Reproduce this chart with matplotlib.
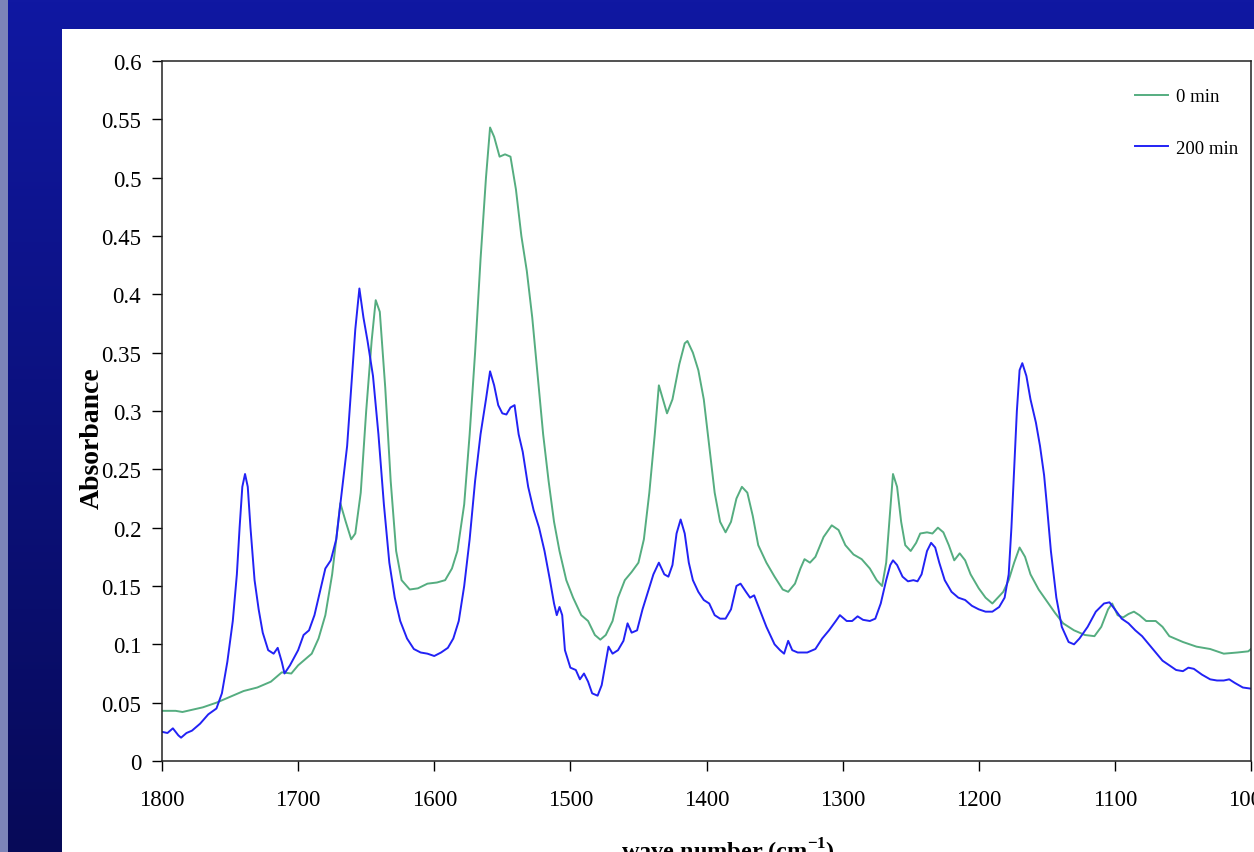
import matplotlib.pyplot as plt
import numpy as np
from matplotlib.patches import Rectangle

plt.rcParams['font.family'] = ['Liberation Serif', 'DejaVu Serif']
plt.rcParams['mathtext.fontset'] = 'custom'
plt.rcParams['mathtext.rm'] = 'Liberation Serif'
plt.rcParams['mathtext.bf'] = 'Liberation Serif:bold'

# spectra (wave number in cm-1, absorbance)
wn_0 = [1800, 1790, 1785, 1770, 1760, 1750, 1740, 1730, 1720, 1712, 1705, 1700,
        1690, 1685, 1680, 1675, 1672, 1669, 1665, 1661, 1658, 1654, 1650, 1646,
        1643, 1640, 1636, 1632, 1628, 1624, 1618, 1612, 1605, 1598, 1592, 1587,
        1583, 1578, 1574, 1570, 1566, 1562, 1559, 1556, 1552, 1548, 1544, 1540,
        1536, 1532, 1528, 1524, 1520, 1516, 1512, 1508, 1503, 1498, 1492, 1487,
        1482, 1478, 1474, 1469, 1465, 1460, 1455, 1450, 1446, 1442, 1438, 1435,
        1432, 1429, 1425, 1420, 1416, 1414, 1410, 1406, 1402, 1398, 1394, 1390,
        1386, 1382, 1378, 1374, 1370, 1366, 1362, 1356, 1350, 1344, 1340, 1335,
        1331, 1328, 1324, 1320, 1314, 1308, 1303, 1298, 1292, 1286, 1280, 1275,
        1271, 1268, 1265, 1263, 1260, 1257, 1254, 1250, 1246, 1243, 1238, 1234,
        1230, 1226, 1222, 1218, 1214, 1210, 1206, 1200, 1195, 1190, 1186, 1182,
        1178, 1174, 1170, 1166, 1162, 1156, 1150, 1144, 1138, 1130, 1122, 1115,
        1110, 1105, 1102, 1098, 1094, 1090, 1086, 1082, 1077, 1070, 1065, 1060,
        1050, 1040, 1030, 1020, 1010, 1002, 1000]
abs_0 = [0.043, 0.043, 0.042, 0.046, 0.050, 0.055, 0.060, 0.063, 0.068, 0.076, 0.075, 0.082,
         0.092, 0.105, 0.125, 0.160, 0.190, 0.221, 0.205, 0.190, 0.195, 0.230, 0.300, 0.360,
         0.395, 0.385, 0.320, 0.240, 0.180, 0.155, 0.147, 0.148, 0.152, 0.153, 0.155, 0.165,
         0.180, 0.220, 0.280, 0.350, 0.430, 0.500, 0.543, 0.535, 0.518, 0.520, 0.518, 0.490,
         0.450, 0.420, 0.380, 0.330, 0.280, 0.240, 0.205, 0.180, 0.155, 0.140, 0.125, 0.120,
         0.108, 0.104, 0.108, 0.120, 0.140, 0.155, 0.162, 0.170, 0.190, 0.230, 0.280, 0.322,
         0.310, 0.298, 0.310, 0.340, 0.358, 0.360, 0.350, 0.335, 0.310, 0.270, 0.230, 0.205,
         0.196, 0.205, 0.225, 0.235, 0.230, 0.210, 0.185, 0.170, 0.158, 0.147, 0.145, 0.152,
         0.165, 0.173, 0.170, 0.175, 0.192, 0.202, 0.198, 0.185, 0.177, 0.173, 0.165, 0.155,
         0.150, 0.170, 0.215, 0.246, 0.235, 0.205, 0.185, 0.180, 0.187, 0.195, 0.196, 0.195,
         0.200, 0.196, 0.185, 0.172, 0.178, 0.172, 0.160, 0.148, 0.140, 0.135, 0.140, 0.145,
         0.155, 0.170, 0.183, 0.175, 0.160, 0.147, 0.137, 0.127, 0.118, 0.112, 0.108, 0.107,
         0.115, 0.130, 0.135, 0.125, 0.123, 0.126, 0.128, 0.125, 0.120, 0.120, 0.115, 0.107,
         0.102, 0.098, 0.096, 0.092, 0.093, 0.094, 0.096]

wn_200 = [1800, 1796, 1792, 1788, 1786, 1782, 1778, 1772, 1766, 1760, 1756, 1752,
          1748, 1745, 1743, 1741, 1739, 1737, 1735, 1732, 1729, 1726, 1722, 1718,
          1715, 1712, 1710, 1706, 1700, 1696, 1692, 1688, 1684, 1680, 1676, 1672,
          1668, 1664, 1661, 1658, 1655, 1652, 1649, 1645, 1641, 1637, 1633, 1629,
          1625, 1620, 1615, 1610, 1605, 1600, 1595, 1590, 1586, 1582, 1578, 1574,
          1570, 1566, 1562, 1559, 1556, 1553, 1550, 1547, 1544, 1541, 1538, 1535,
          1531, 1527, 1523, 1519, 1515, 1512, 1510, 1508, 1506, 1504, 1500, 1496,
          1493, 1490, 1487, 1484, 1480, 1477, 1474, 1472, 1469, 1465, 1461, 1458,
          1455, 1451, 1447, 1443, 1439, 1435, 1431, 1428, 1425, 1422, 1419, 1416,
          1413, 1410, 1406, 1402, 1398, 1394, 1390, 1386, 1382, 1378, 1375, 1371,
          1368, 1365, 1361, 1356, 1350, 1346, 1343, 1340, 1337, 1333, 1326, 1320,
          1315, 1310, 1305, 1302, 1297, 1293, 1289, 1285, 1280, 1276, 1272, 1268,
          1265, 1263, 1260, 1256, 1252, 1248, 1245, 1242, 1238, 1235, 1232, 1229,
          1225, 1220, 1215, 1210, 1205, 1200, 1195, 1190, 1185, 1181, 1178, 1176,
          1174, 1172, 1170, 1168, 1165, 1162, 1158, 1155, 1152, 1150, 1147, 1143,
          1139, 1134, 1130, 1126, 1120, 1114, 1108, 1104, 1100, 1095, 1090, 1085,
          1080, 1075, 1070, 1065, 1060, 1055, 1050, 1046, 1042, 1036, 1030, 1025,
          1020, 1016, 1012, 1006, 1000]
abs_200 = [0.025, 0.024, 0.028, 0.022, 0.020, 0.024, 0.026, 0.032, 0.040, 0.045, 0.058, 0.085,
           0.120, 0.160, 0.200, 0.235, 0.246, 0.235, 0.200, 0.155, 0.130, 0.110, 0.095, 0.092,
           0.097, 0.085, 0.075, 0.082, 0.095, 0.108, 0.112, 0.125, 0.145, 0.165, 0.172, 0.190,
           0.230, 0.270, 0.320, 0.370, 0.405, 0.380, 0.360, 0.330, 0.280, 0.220, 0.170, 0.140,
           0.120, 0.105, 0.096, 0.093, 0.092, 0.090, 0.093, 0.097, 0.105, 0.120, 0.150, 0.190,
           0.240, 0.280, 0.310, 0.334, 0.322, 0.305, 0.298, 0.297, 0.303, 0.305, 0.280, 0.265,
           0.235, 0.215, 0.200, 0.180, 0.155, 0.135, 0.125, 0.132, 0.125, 0.095, 0.080, 0.078,
           0.070, 0.075, 0.068, 0.058, 0.056, 0.065, 0.085, 0.098, 0.092, 0.095, 0.103, 0.118,
           0.110, 0.112, 0.130, 0.145, 0.160, 0.170, 0.160, 0.158, 0.168, 0.195, 0.207, 0.195,
           0.170, 0.155, 0.145, 0.138, 0.135, 0.125, 0.122, 0.122, 0.130, 0.150, 0.152, 0.145,
           0.140, 0.142, 0.130, 0.115, 0.100, 0.095, 0.092, 0.103, 0.095, 0.093, 0.093, 0.096,
           0.105, 0.112, 0.120, 0.125, 0.120, 0.120, 0.124, 0.121, 0.120, 0.122, 0.135, 0.155,
           0.168, 0.172, 0.168, 0.158, 0.154, 0.155, 0.154, 0.160, 0.180, 0.187, 0.183, 0.170,
           0.155, 0.145, 0.140, 0.138, 0.133, 0.130, 0.128, 0.128, 0.132, 0.140, 0.160, 0.200,
           0.250, 0.300, 0.335, 0.341, 0.330, 0.310, 0.290, 0.270, 0.245, 0.220, 0.180, 0.140,
           0.115, 0.102, 0.100, 0.105, 0.115, 0.128, 0.135, 0.136, 0.130, 0.122, 0.118, 0.112,
           0.107, 0.100, 0.093, 0.086, 0.082, 0.078, 0.077, 0.080, 0.079, 0.074, 0.070, 0.069,
           0.069, 0.070, 0.067, 0.063, 0.062]

W, H = 1254, 853
fig = plt.figure(figsize=(W / 100, H / 100), dpi=100)

# slide background: blue gradient frame with white panel
bg = fig.add_axes([0, 0, 1, 1], zorder=-10)
grad = np.linspace(0, 1, 256).reshape(-1, 1)
top = np.array([16, 24, 162]) / 255
bot = np.array([7, 10, 88]) / 255
img = top + (bot - top) * grad[:, :, None]
img = np.repeat(img, 2, axis=1)
bg.imshow(img, extent=[0, W, H, 0], aspect='auto')
bg.add_patch(Rectangle((0, 0), 8, H, color='#7c84b8', lw=0))
bg.add_patch(Rectangle((62, 30), W - 62, H - 30, color='white', lw=0))
bg.set_xlim(0, W)
bg.set_ylim(H, 0)
bg.axis('off')

ax = fig.add_axes([162 / W, (H - 762) / H, (1251 - 162) / W, 700 / H])
ax.plot(wn_0, abs_0, color='#55ad80', lw=1.4, label='0 min')
ax.plot(wn_200, abs_200, color='#2222f5', lw=1.4, label='200 min')

ax.set_xlim(1800, 1000)
ax.set_ylim(0, 0.6)
ax.set_xticks(np.arange(1800, 999, -100))
ax.set_yticks(np.arange(0, 0.61, 0.05))
ax.set_yticklabels(['%g' % round(v, 2) for v in np.arange(0, 0.61, 0.05)])
ax.tick_params(direction='out', length=7, width=1, labelsize=16.5, colors='black')
ax.tick_params(axis='x', pad=13)
ax.tick_params(axis='y', pad=8)
for s in ax.spines.values():
    s.set_linewidth(1.1)
    s.set_color('#222222')

fig.text(92 / W, 1 - 438 / H, 'Absorbance', fontsize=20, fontweight='bold',
         rotation=90, ha='center', va='center')
fig.text(728 / W, 1 - 852 / H, 'wave number (cm$^{\\mathbf{-1}}$)', fontsize=17.5,
         fontweight='bold', ha='center', va='center')

ax.legend(loc='upper left', frameon=False, fontsize=13.5, handlelength=1.76,
          labelspacing=1.85, handletextpad=0.4, borderaxespad=0, borderpad=0,
          bbox_to_anchor=(1135 / W, 1 - 89 / H), bbox_transform=fig.transFigure)

plt.savefig('out.png', dpi=100)
